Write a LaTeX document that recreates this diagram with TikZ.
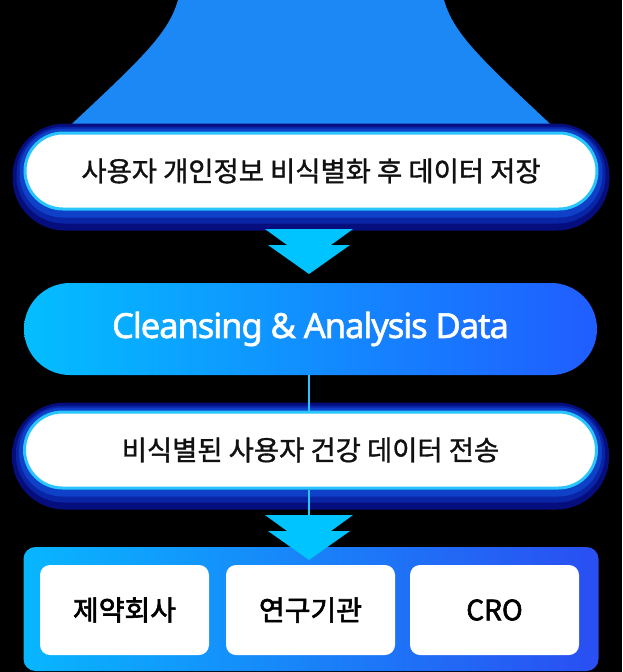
\documentclass[tikz,border=0pt]{standalone}
\usepackage{fontspec}
\newfontfamily\kr{Noto Sans CJK KR}
\newfontfamily\krm{Noto Sans CJK KR}[FakeBold=1.2]
\newfontfamily\krb{Noto Sans CJK KR}[FakeBold=2.2]
\newfontfamily\en{Noto Sans}[FakeBold=1.6, LetterSpace=-3]
\definecolor{funnelc}{HTML}{1C88F6}
\definecolor{navyglow}{HTML}{060E7E}
\definecolor{midglow}{HTML}{0A24A6}
\definecolor{innglow}{HTML}{0E40C8}
\definecolor{cyanb}{HTML}{29C5FF}
\definecolor{arrowc}{HTML}{00C4FF}
\definecolor{gradl}{HTML}{03BEFF}
\definecolor{gradr}{HTML}{205DFF}
\definecolor{panl}{HTML}{08B6FF}
\definecolor{panr}{HTML}{2A4EF2}
\definecolor{txt}{HTML}{111111}
\pgfdeclarelayer{back}
\pgfdeclarelayer{glow}
\pgfsetlayers{back,glow,main}
\tikzset{
  pill/.style={draw=cyanb, line width=3pt, fill=white, rounded corners=38pt,
    minimum width=572pt, minimum height=76pt, inner sep=0pt, text=txt,
    font=\krm\fontsize{27.4}{32}\selectfont},
  gradpill/.style={rounded corners=46pt, minimum width=573pt, minimum height=92pt,
    inner sep=0pt, left color=gradl, right color=gradr, text=white,
    font=\en\fontsize{34.5}{40}\selectfont},
  panelbox/.style={rounded corners=12pt, minimum width=575pt, minimum height=124pt,
    inner sep=0pt, left color=panl, right color=panr},
  card/.style={rounded corners=10pt, fill=white, minimum width=169pt, minimum height=90pt,
    inner sep=0pt, text=black, font=\krb\fontsize{28}{32}\selectfont},
  conn/.style={draw=cyanb, line width=1.3pt},
  chev/.pic={\fill[arrowc] (-44,0) -- (44,0) -- (22,16) -- (41,16) -- (0,45) -- (-41,16) -- (-22,16) -- cycle;}
}
\newcommand{\glowof}[1]{%
  \begin{pgfonlayer}{glow}
    \fill[navyglow, rounded corners=52.5pt] ([xshift=-11pt,yshift=8pt]#1.north west) rectangle ([xshift=11pt,yshift=-20pt]#1.south east);
    \fill[midglow, rounded corners=47.5pt] ([xshift=-7pt,yshift=5pt]#1.north west) rectangle ([xshift=7pt,yshift=-13pt]#1.south east);
    \fill[innglow, rounded corners=43.5pt] ([xshift=-4pt,yshift=3pt]#1.north west) rectangle ([xshift=4pt,yshift=-7pt]#1.south east);
  \end{pgfonlayer}}
\begin{document}
\begin{tikzpicture}[x=1pt,y=-1pt]
\useasboundingbox (0,0) rectangle (622,672);
\begin{pgfonlayer}{back}
  \fill[black] (0,0) rectangle (622,672);
  \fill[funnelc] (178,0) .. controls (168,35) and (140,60) .. (60,135) -- (562,135) .. controls (482,60) and (454,35) .. (444,0) -- cycle;
\end{pgfonlayer}

\node[pill] (b1) at (311,171) {사용자 개인정보 비식별화 후 데이터 저장};
\glowof{b1}

\pic at (309,229) {chev};

\node[gradpill] (b2) at (310.5,329) {Cleansing \& Analysis Data};

\node[pill] (b3) at (310.5,450) {비식별된 사용자 건강 데이터 전송};
\glowof{b3}

\coordinate (a2) at (309,515);
\draw[conn] (b2.south -| a2) -- (b3.north -| a2);
\draw[conn] (b3.south -| a2) -- (a2);

\node[panelbox] (panel) at (311,609) {};
\node[card] (c1) at (124.5,610) {제약회사};
\node[card] (c2) at (310.5,610) {연구기관};
\node[card] (c3) at (494.5,610) {CRO};

\pic at (309,515) {chev};
\end{tikzpicture}
\end{document}
